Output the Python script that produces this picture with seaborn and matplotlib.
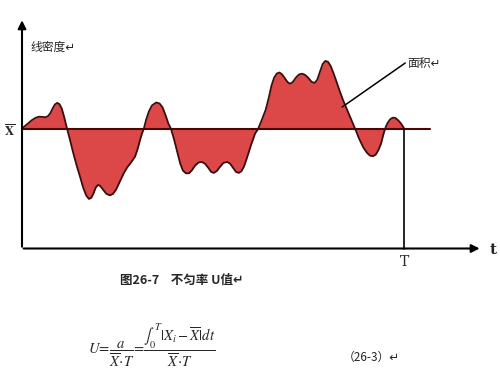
import matplotlib
matplotlib.use("Agg")
import matplotlib.pyplot as plt
import numpy as np
import seaborn as sns

# time positions (T = 100) and linear density
t_pts = [0, 0.8, 1.7, 2.6, 3.5, 4.4, 5.3, 6.1, 6.8, 7.4, 8.0, 8.6, 9.2, 9.8, 10.4,
         11.0, 11.8, 12.6, 13.4, 14.3, 15.2, 16.0, 16.8, 17.5, 18.1, 18.7, 19.3,
         19.9, 20.5, 21.3, 22.1, 23.0, 23.8, 24.6, 25.6, 26.6, 27.5, 28.6, 29.6,
         30.3, 30.9, 31.4, 31.9, 32.5, 33.2, 34.0, 35.1, 36.0, 36.8, 37.6, 38.3,
         39.0, 39.8, 40.6, 41.4, 42.1, 42.9, 43.7, 44.5, 45.3, 46.2, 47.1, 48.0,
         48.8, 49.5, 50.2, 51.0, 51.8, 52.7, 53.7, 54.5, 55.3, 56.0, 56.7, 57.4,
         58.1, 58.9, 59.9, 61.0, 61.8, 62.8, 63.8, 64.6, 65.3, 66.0, 66.7, 67.4,
         68.1, 68.9, 69.6, 70.2, 70.9, 71.7, 72.5, 73.3, 74.1, 75.0, 75.8, 76.6,
         77.3, 78.0, 78.7, 79.4, 80.1, 80.8, 81.5, 82.3, 83.1, 84.0, 85.0, 85.9,
         86.6, 87.2, 88.2, 89.3, 90.3, 91.1, 91.9, 92.6, 93.3, 94.0, 94.5, 95.0,
         95.6, 96.3, 97.0, 97.7, 98.4, 99.2, 100]
density = [60, 61.3, 62.8, 64.2, 65.3, 65.9, 65.8, 65.6, 66.2, 67.6, 70.0, 72.0,
           72.8, 72.2, 70.0, 66.0, 59.8, 54.0, 47.8, 41.5, 35.8, 30.5, 26.5, 24.8,
           25.3, 27.5, 30.5, 31.8, 31.2, 29.2, 27.3, 26.6, 27.3, 29.4, 33.5, 37.5,
           40.5, 43.2, 46.0, 50.0, 54.3, 57.5, 60, 64.5, 68.5, 71.5, 73.0, 72.5,
           70.5, 66.5, 62.5, 59.8, 54.5, 48.5, 42.5, 39.0, 37.6, 37.6, 39.2, 41.5,
           43.0, 43.3, 42.2, 40.2, 38.3, 37.8, 38.8, 40.8, 42.8, 43.3, 42.3, 40.2,
           38.3, 37.8, 38.6, 41.0, 45.5, 51.5, 57.5, 59.8, 64.5, 69.5, 75.5, 81.5,
           85.5, 87.5, 88.0, 87.0, 84.8, 83.0, 82.4, 83.3, 85.5, 87.0, 87.4, 86.8,
           85.2, 83.3, 82.8, 84.5, 88.5, 92.3, 93.8, 93.3, 91.2, 87.8, 83.5, 79.0,
           74.3, 69.8, 65.8, 62.5, 59.8, 55.0, 50.6, 47.8, 46.4, 46.2, 47.0, 49.3,
           52.6, 56.5, 59.8, 62.5, 64.5, 65.4, 65.3, 64.2, 62.5, 60]
mean_val = 60
T_end = 100

sns.set_style("white")
plt.rcParams["font.family"] = ["Noto Sans CJK SC", "DejaVu Sans"]
plt.rcParams["mathtext.fontset"] = "stix"

fig = plt.figure(figsize=(5, 3.74), dpi=100)
ax = fig.add_axes([0, 0, 1, 1])
ax.set_xlim(-5.76, 125.1)
ax.set_ylim(-62.75, 124.25)
ax.axis("off")

t = np.array(t_pts)
d = np.array(density)
ax.fill_between(t, d, mean_val, color="#dc4848", lw=0)
sns.lineplot(x=t, y=d, ax=ax, color="#3a0e0e", lw=1.3, sort=False,
             solid_joinstyle="round")

# axes with arrows
ax.annotate("", xy=(0, 115.5), xytext=(0, -0.5),
            arrowprops=dict(arrowstyle="-|>", color="black", lw=1.5, mutation_scale=12))
ax.annotate("", xy=(120.5, 0), xytext=(-0.3, 0),
            arrowprops=dict(arrowstyle="-|>", color="black", lw=1.5, mutation_scale=12))
ax.plot([0, 106.8], [mean_val, mean_val], color="#4a0505", lw=1.5)
ax.plot([T_end, T_end], [0, mean_val], color="black", lw=1.2)

# labels
ax.text(2.1, 100.75, "线密度↵", fontsize=8.5, va="center", ha="left")
ax.plot([83.8, 100.3], [70.75, 92.75], color="black", lw=1.1)
ax.text(100.8, 92.5, "面积↵", fontsize=8.5, va="center", ha="left")
ax.text(-3.4, 58.5, r"$\overline{\mathbf{X}}$", fontsize=9, va="center", ha="center")
ax.text(T_end, -7, "T", fontsize=10, family="DejaVu Serif", va="center", ha="center")
ax.text(122.3, -0.5, "t", fontsize=11, family="DejaVu Serif", fontweight="bold",
        va="center", ha="left")

ax.text(25.6, -15.75, "图26-7    不匀率 U值↵", fontsize=9, fontweight="bold",
        va="center", ha="left")
ax.text(17.3, -48.5,
        r"$U\!=\!\dfrac{a}{\overline{X}\!\cdot\! T}\!=\!\dfrac{\int_0^T|X_i-\overline{X}|dt}{\overline{X}\!\cdot\! T}$",
        fontsize=10.5, va="center", ha="left")
ax.text(84, -54.25, "（26-3）↵", fontsize=8.5, va="center", ha="left")

fig.savefig("out.png", dpi=100)
